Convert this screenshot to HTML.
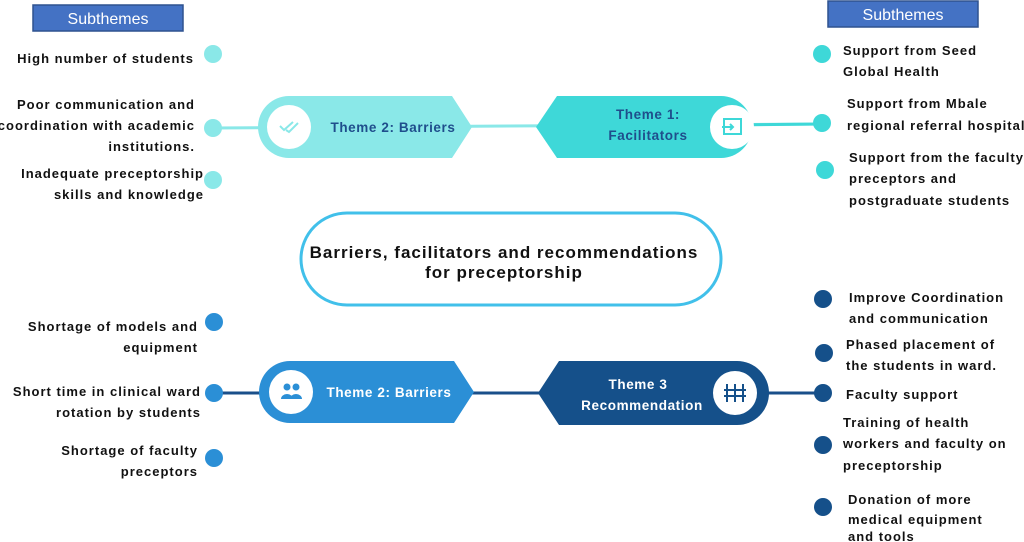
<!DOCTYPE html>
<html><head><meta charset="utf-8"><style>
html,body{margin:0;padding:0;background:#fff;}
svg{display:block;font-family:"Liberation Sans",Arial,sans-serif;}
.t{font-size:13px;font-weight:bold;fill:#111;letter-spacing:1px;}
.th{font-size:13.5px;font-weight:bold;letter-spacing:0.6px;}
</style></head><body>
<svg width="1024" height="542" viewBox="0 0 1024 542" xmlns="http://www.w3.org/2000/svg">
<rect x="33" y="5" width="150" height="26" fill="#4472c4" stroke="#2f528f" stroke-width="1.5"/>
<text x="108" y="24" text-anchor="middle" fill="#fff" font-size="16">Subthemes</text>
<rect x="828" y="1" width="150" height="26" fill="#4472c4" stroke="#2f528f" stroke-width="1.5"/>
<text x="903" y="20" text-anchor="middle" fill="#fff" font-size="16">Subthemes</text>

<line x1="213" y1="128" x2="822" y2="124" stroke="#8ae8e8" stroke-width="3"/>
<line x1="540" y1="127" x2="822" y2="124" stroke="#3ed8d8" stroke-width="3"/>
<line x1="214" y1="393" x2="823" y2="393" stroke="#1a4f8a" stroke-width="3"/>

<path d="M289,96 H452 L472,127 L452,158 H289 A31,31 0 0 1 289,96 Z" fill="#8ae8e8"/>
<circle cx="289" cy="127" r="22" fill="#fff"/>
<path d="M280,126 l4,4 l9,-8 M286,130 l3,2 l9,-9" stroke="#8ae8e8" stroke-width="2" fill="none"/>
<text x="393" y="132" text-anchor="middle" class="th" fill="#1f4e8c">Theme 2: Barriers</text>

<path d="M557,96 H721 A31,31 0 0 1 721,158 H557 L536,127 Z" fill="#3ed8d8"/>
<circle cx="732" cy="127" r="22" fill="#fff"/>
<rect x="724" y="119" width="17" height="15" fill="none" stroke="#3ed8d8" stroke-width="2"/>
<path d="M722,127 h11 m-3,-3 l3,3 l-3,3" stroke="#3ed8d8" stroke-width="2" fill="none"/>
<text x="648" y="119" text-anchor="middle" class="th" fill="#1f4e8c">Theme 1:</text>
<text x="648" y="140" text-anchor="middle" class="th" fill="#1f4e8c">Facilitators</text>

<path d="M290,361 H454 L474,392 L454,423 H290 A31,31 0 0 1 290,361 Z" fill="#2b8fd6"/>
<circle cx="291" cy="392" r="22" fill="#fff"/>
<circle cx="287" cy="387" r="3.5" fill="#2b8fd6"/><circle cx="296" cy="387" r="3.5" fill="#2b8fd6"/>
<path d="M281,399 a6,5 0 0 1 12,0 Z M290,399 a6,5 0 0 1 12,0 Z" fill="#2b8fd6"/>
<text x="389" y="397" text-anchor="middle" class="th" fill="#fff">Theme 2: Barriers</text>

<path d="M559,361 H737 A32,32 0 0 1 737,425 H559 L538,393 Z" fill="#15508a"/>
<circle cx="735" cy="393" r="22" fill="#fff"/>
<g stroke="#15508a" stroke-width="2">
<line x1="727" y1="384" x2="727" y2="402"/><line x1="735" y1="384" x2="735" y2="402"/><line x1="743" y1="384" x2="743" y2="402"/>
<line x1="724" y1="390" x2="746" y2="390"/><line x1="724" y1="396" x2="746" y2="396"/>
</g>
<text x="638" y="389" text-anchor="middle" class="th" fill="#fff">Theme 3</text>
<text x="642" y="410" text-anchor="middle" class="th" fill="#fff">Recommendation</text>

<rect x="301" y="213" width="420" height="92" rx="46" fill="#fff" stroke="#41c0ea" stroke-width="3"/>
<text x="504" y="258" text-anchor="middle" font-size="17" font-weight="bold" letter-spacing="1" fill="#111">Barriers, facilitators and recommendations</text>
<text x="504" y="278" text-anchor="middle" font-size="17" font-weight="bold" letter-spacing="1" fill="#111">for preceptorship</text>

<g fill="#8ae8e8"><circle cx="213" cy="54" r="9"/><circle cx="213" cy="128" r="9"/><circle cx="213" cy="180" r="9"/></g>
<g fill="#3ed8d8"><circle cx="822" cy="54" r="9"/><circle cx="822" cy="123" r="9"/><circle cx="825" cy="170" r="9"/></g>
<g fill="#2b8fd6"><circle cx="214" cy="322" r="9"/><circle cx="214" cy="393" r="9"/><circle cx="214" cy="458" r="9"/></g>
<g fill="#15508a"><circle cx="823" cy="299" r="9"/><circle cx="824" cy="353" r="9"/><circle cx="823" cy="393" r="9"/><circle cx="823" cy="445" r="9"/><circle cx="823" cy="507" r="9"/></g>

<g class="t" text-anchor="end">
<text x="194" y="63">High number of students</text>
<text x="195" y="109">Poor communication and</text>
<text x="195" y="130">coordination with academic</text>
<text x="195" y="151">institutions.</text>
<text x="204" y="178">Inadequate preceptorship</text>
<text x="204" y="199">skills and knowledge</text>
<text x="198" y="331">Shortage of models and</text>
<text x="198" y="352">equipment</text>
<text x="201" y="396">Short time in clinical ward</text>
<text x="201" y="417">rotation by students</text>
<text x="198" y="455">Shortage of faculty</text>
<text x="198" y="476">preceptors</text>
</g>

<g class="t">
<text x="843" y="55">Support from Seed</text>
<text x="843" y="76">Global Health</text>
<text x="847" y="108">Support from Mbale</text>
<text x="847" y="130">regional referral hospital</text>
<text x="849" y="162">Support from the faculty</text>
<text x="849" y="183">preceptors and</text>
<text x="849" y="205">postgraduate students</text>
<text x="849" y="302">Improve Coordination</text>
<text x="849" y="323">and communication</text>
<text x="846" y="349">Phased placement of</text>
<text x="846" y="370">the students in ward.</text>
<text x="846" y="399">Faculty support</text>
<text x="843" y="427">Training of health</text>
<text x="843" y="448">workers and faculty on</text>
<text x="843" y="470">preceptorship</text>
<text x="848" y="504">Donation of more</text>
<text x="848" y="524">medical equipment</text>
<text x="848" y="541">and tools</text>
</g>
</svg>
</body></html>
